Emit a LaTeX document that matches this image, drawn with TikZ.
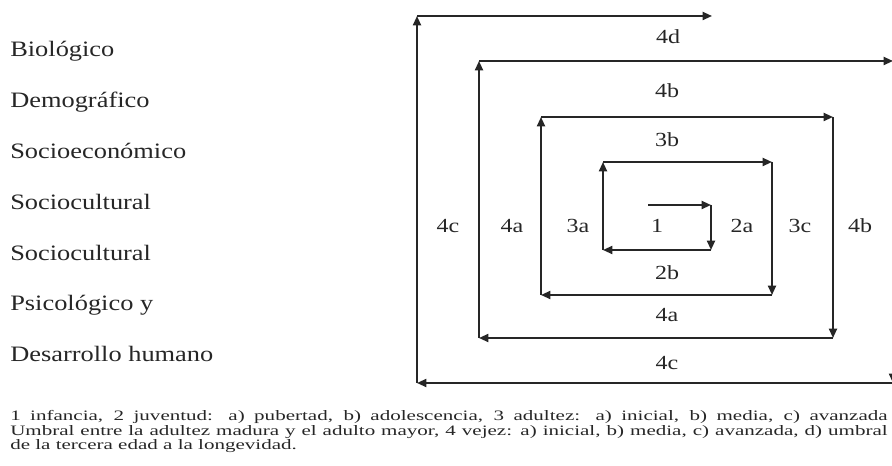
\documentclass[tikz,border=0pt]{standalone}
\usepackage{fontspec}
\setmainfont{Liberation Serif}[FakeStretch=1.2]
\newfontfamily\notefont{Liberation Serif}[FakeStretch=1.46]
\usetikzlibrary{arrows.meta}

\begin{document}
\begin{tikzpicture}[
    x=0.75pt, y=-0.75pt,
    seg/.style={line width=1.4pt, black!85, -{Triangle[length=7pt, width=6pt]}},
    factor/.style={anchor=base west, inner sep=0pt, text=black!85, font=\fontsize{16.5}{19}\selectfont},
    tag/.style={anchor=base, inner sep=0pt, text=black!85, font=\fontsize{15}{18}\selectfont},
    note/.style={anchor=base west, inner sep=0pt, text=black!85, font=\notefont\fontsize{10.8}{13}\selectfont},
]
    \useasboundingbox (0,0) rectangle (892,466);

    % Factors
    \node[factor] (bio) at (10, 57) {Biológico};
    \node[factor] (dem) at (10, 108) {Demográfico};
    \node[factor] (soe) at (10, 159) {Socioeconómico};
    \node[factor] (soc1) at (10, 210) {Sociocultural};
    \node[factor] (soc2) at (10, 261) {Sociocultural};
    \node[factor] (psi) at (10, 311) {Psicológico y};
    \node[factor] (des) at (10, 362) {Desarrollo humano};

    % Spiral corners
    \coordinate (s0) at (648, 205);
    \coordinate (c1) at (711, 205);
    \coordinate (c2) at (711, 250);
    \coordinate (c3) at (603, 250);
    \coordinate (c4) at (603, 162);
    \coordinate (c5) at (772, 162);
    \coordinate (c6) at (772, 295);
    \coordinate (c7) at (541, 295);
    \coordinate (c8) at (541, 117);
    \coordinate (c9) at (833, 117);
    \coordinate (c10) at (833, 338);
    \coordinate (c11) at (479, 338);
    \coordinate (c12) at (479, 61);
    \coordinate (c13) at (893, 61);
    \coordinate (c14) at (893, 383);
    \coordinate (c15) at (417, 383);
    \coordinate (c16) at (417, 16);
    \coordinate (c17) at (712, 16);

    % Spiral
    \draw[seg] (s0) -- (c1);
    \draw[seg] (c1) -- (c2);
    \draw[seg] (c2) -- (c3);
    \draw[seg] (c3) -- (c4);
    \draw[seg] (c4) -- (c5);
    \draw[seg] (c5) -- (c6);
    \draw[seg] (c6) -- (c7);
    \draw[seg] (c7) -- (c8);
    \draw[seg] (c8) -- (c9);
    \draw[seg] (c9) -- (c10);
    \draw[seg] (c10) -- (c11);
    \draw[seg] (c11) -- (c12);
    \draw[seg] (c12) -- (c13);
    \draw[seg] (c13) -- (c14);
    \draw[seg] (c14) -- (c15);
    \draw[seg] (c15) -- (c16);
    \draw[seg] (c16) -- (c17);

    % Stage labels
    \node[tag] (t1) at (657, 233) {1};
    \node[tag] (t2a) at (742, 233) {2a};
    \node[tag] (t3c) at (800, 233) {3c};
    \node[tag] (t4bR) at (860, 233) {4b};
    \node[tag] (t3a) at (578, 233) {3a};
    \node[tag] (t4aL) at (512, 233) {4a};
    \node[tag] (t4cL) at (448, 233) {4c};
    \node[tag] (t4d) at (668, 44) {4d};
    \node[tag] (t4bT) at (667, 98) {4b};
    \node[tag] (t3b) at (667, 147) {3b};
    \node[tag] (t2b) at (667, 280) {2b};
    \node[tag] (t4aB) at (667, 322) {4a};
    \node[tag] (t4cB) at (667, 369) {4c};

    % Caption (justified lines)
    \node[note] (n1) at (10, 421) {\makebox[658pt][s]{1 infancia, 2 juventud: a) pubertad, b) adolescencia, 3 adultez: a) inicial, b) media, c) avanzada}};
    \node[note] (n2) at (10, 435) {\makebox[658pt][s]{Umbral entre la adultez madura y el adulto mayor, 4 vejez: a) inicial, b) media, c) avanzada, d) umbral}};
    \node[note] (n3) at (10, 449) {de la tercera edad a la longevidad.};
\end{tikzpicture}
\end{document}
